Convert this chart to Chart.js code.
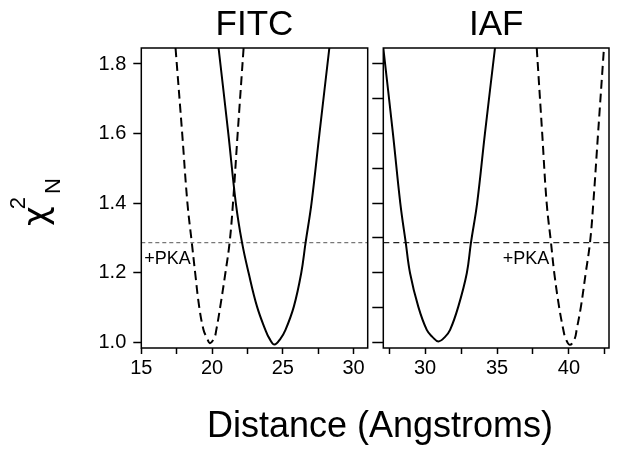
<!DOCTYPE html>
<html>
<head>
<meta charset="utf-8">
<script src="https://cdn.jsdelivr.net/npm/chart.js@4.4.0/dist/chart.umd.min.js"></script>
<style>
  body { margin: 0; background: #fff; width: 619px; height: 451px; overflow: hidden; position: relative; font-family: "Liberation Sans", Arial, Helvetica, sans-serif; }
  canvas { position: absolute; left: 0; top: 0; }
  #xtitle { position: absolute; left: 0; width: 760px; top: 407px; text-align: center; font-size: 36px; line-height: 36px; color: #000; }
  #ytitle { position: absolute; left: 5px; top: 177px; width: 60px; height: 50px; line-height: 50px; font-size: 34px; text-align: center; color: #000; transform: rotate(-90deg); white-space: nowrap; }
  #ytitle .chi { font-family: "DejaVu Sans", sans-serif; }
  #ytitle .sup { font-size: 22px; line-height: 0; vertical-align: 22px; margin-left: -3px; }
  #ytitle .sub { font-size: 22px; line-height: 0; vertical-align: -13px; margin-left: 3px; }
</style>
</head>
<body>
<canvas id="chartFitc" width="619" height="451"></canvas>
<canvas id="chartIaf" width="619" height="451"></canvas>
<div id="xtitle">Distance (Angstroms)</div>
<div id="ytitle"><span class="chi">χ</span><span class="sup">2</span><span class="sub">N</span></div>
<script>
// FITC panel, no PKA (solid) and +PKA (dashed)
var fitcDist = [20.46, 21.15, 21.68, 22.12, 22.59, 23.18, 23.77, 24.06, 24.41, 24.84, 25.19, 25.78, 26.3, 26.61, 27.03, 27.59, 28.29];
var fitcChi = [1.846, 1.6, 1.4, 1.286, 1.198, 1.102, 1.035, 1.01, 0.993, 1.01, 1.035, 1.102, 1.198, 1.286, 1.4, 1.6, 1.846];
var fitcPkaDist = [17.42, 17.89, 18.26, 18.57, 18.81, 19.09, 19.4, 19.64, 19.85, 20.16, 20.3, 20.58, 20.94, 21.24, 21.48, 21.81, 22.23];
var fitcPkaChi = [1.846, 1.6, 1.4, 1.286, 1.198, 1.102, 1.035, 1.012, 0.997, 1.012, 1.035, 1.102, 1.198, 1.286, 1.4, 1.6, 1.846];

// IAF panel
var iafDist = [27.1, 27.77, 28.28, 28.66, 28.96, 29.53, 30.12, 30.51, 30.93, 31.39, 31.74, 32.31, 32.9, 33.19, 33.62, 34.16, 34.86];
var iafChi = [1.846, 1.6, 1.4, 1.286, 1.198, 1.102, 1.035, 1.015, 1.002, 1.015, 1.035, 1.102, 1.198, 1.286, 1.4, 1.6, 1.846];
var iafPkaDist = [37.76, 38.14, 38.45, 38.75, 38.98, 39.31, 39.61, 39.77, 40.07, 40.4, 40.53, 40.83, 41.16, 41.46, 41.69, 42.02, 42.43];
var iafPkaChi = [1.846, 1.6, 1.4, 1.286, 1.198, 1.102, 1.035, 1.01, 0.992, 1.01, 1.035, 1.102, 1.198, 1.286, 1.4, 1.6, 1.846];

var threshold = 1.286;
var yMin = 0.983;
var yMax = 1.846;
var fitcRange = [15, 31];
var iafRange = [27.1, 42.78];
var pkaLabel = "+PKA";

const FONT = '"Liberation Sans", Arial, Helvetica, sans-serif';
Chart.defaults.color = "#000";
Chart.defaults.font.family = FONT;

function toPoints(xs, ys) {
  return xs.map(function (x, i) { return { x: x, y: ys[i] }; });
}

// box around the plot + the "+PKA" note
const framePlugin = {
  id: "frame",
  afterDraw(chart, args, opts) {
    const ctx = chart.ctx;
    const a = chart.chartArea;
    ctx.save();
    ctx.strokeStyle = "#000";
    ctx.lineWidth = 1.5;
    ctx.strokeRect(a.left, a.top, a.right - a.left, a.bottom - a.top);
    ctx.fillStyle = "#000";
    ctx.font = "18px " + FONT;
    ctx.textAlign = "left";
    ctx.textBaseline = "middle";
    ctx.fillText(opts.text, chart.scales.x.getPixelForValue(opts.x), chart.scales.y.getPixelForValue(opts.y));
    ctx.restore();
  }
};

function makePanel(id, title, range, solid, dashed, cfg) {
  return new Chart(document.getElementById(id), {
    type: "line",
    data: {
      datasets: [
        {
          data: solid,
          borderColor: "#000",
          borderWidth: 2,
          pointRadius: 0,
          tension: 0.4
        },
        {
          data: dashed,
          borderColor: "#000",
          borderWidth: 2,
          borderDash: [9, 5],
          pointRadius: 0,
          tension: 0.4
        },
        {
          data: [{ x: range[0], y: threshold }, { x: range[1], y: threshold }],
          borderColor: cfg.thrColor,
          borderWidth: 1.2,
          borderDash: cfg.thrDash,
          pointRadius: 0
        }
      ]
    },
    options: {
      responsive: false,
      animation: false,
      layout: { padding: cfg.padding },
      plugins: {
        legend: { display: false },
        tooltip: { enabled: false },
        title: {
          display: true,
          text: title,
          fullSize: false,
          font: { size: 35, weight: "normal" },
          padding: { top: 4, bottom: 2 }
        },
        frame: cfg.note
      },
      scales: {
        x: {
          type: "linear",
          min: range[0],
          max: range[1],
          border: { display: false },
          grid: { drawOnChartArea: false, drawTicks: true, tickLength: 6, tickColor: "#000", tickWidth: 1.5 },
          ticks: {
            stepSize: 2.5,
            includeBounds: false,
            autoSkip: false,
            maxRotation: 0,
            padding: 2,
            font: { size: 20 },
            callback: function (v) { return v % 5 === 0 ? v : ""; }
          },
          afterFit: function (s) {
            s.height = 30;
            s.paddingLeft = 0; s.paddingRight = 0; s.paddingTop = 0; s.paddingBottom = 0;
          }
        },
        y: {
          type: "linear",
          min: yMin,
          max: yMax,
          border: { display: false },
          grid: { drawOnChartArea: false, drawTicks: true, tickLength: cfg.yTick, tickColor: "#000", tickWidth: 1.5 },
          ticks: {
            stepSize: cfg.yStep,
            includeBounds: false,
            autoSkip: false,
            padding: 7,
            font: { size: 20 },
            callback: cfg.yLabels ? function (v) { return v.toFixed(1); } : function () { return ""; }
          },
          afterFit: function (s) {
            s.width = cfg.yWidth;
            s.paddingLeft = 0; s.paddingRight = 0; s.paddingTop = 0; s.paddingBottom = 0;
          }
        }
      }
    },
    plugins: [framePlugin]
  });
}

let fitcChart = makePanel("chartFitc", "FITC", fitcRange,
  toPoints(fitcDist, fitcChi), toPoints(fitcPkaDist, fitcPkaChi), {
    padding: { left: 100, right: 251.3, top: 0, bottom: 73 },
    yWidth: 41.3,
    yTick: 8,
    yStep: 0.2,
    yLabels: true,
    thrColor: "#777",
    thrDash: [4, 3],
    note: { text: pkaLabel, x: 15.21, y: 1.239 }
  });

let iafChart = makePanel("chartIaf", "IAF", iafRange,
  toPoints(iafDist, iafChi), toPoints(iafPkaDist, iafPkaChi), {
    padding: { left: 372.3, right: 10, top: 0, bottom: 73 },
    yWidth: 11,
    yTick: 11,
    yStep: 0.1,
    yLabels: false,
    thrColor: "#222",
    thrDash: [6, 4],
    note: { text: pkaLabel, x: 35.4, y: 1.239 }
  });
</script>
</body>
</html>
